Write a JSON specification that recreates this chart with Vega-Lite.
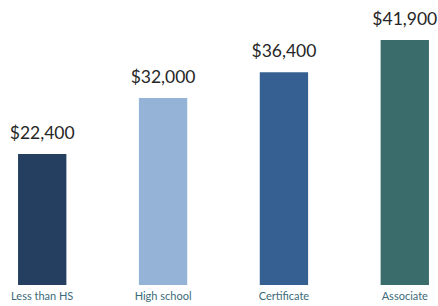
{
  "$schema": "https://vega.github.io/schema/vega-lite/v6.json",
  "autosize": {"type": "none"},
  "width": 423,
  "height": 263,
  "padding": {"left": 12, "right": 3, "top": 22, "bottom": 21},
  "background": "white",
  "config": {"view": {"stroke": null}, "font": "Lato"},
  "data": {"values": [
    {"level": "Less than HS", "earnings": 22400, "color": "#253F60"},
    {"level": "High school", "earnings": 32000, "color": "#95B3D7"},
    {"level": "Certificate", "earnings": 36400, "color": "#366092"},
    {"level": "Associate", "earnings": 41900, "color": "#3A6C6C"}
  ]},
  "encoding": {
    "x": {"field": "level", "type": "nominal", "sort": null,
      "scale": {"paddingInner": 0.6, "paddingOuter": 0.05},
      "axis": {"title": null, "ticks": false, "domain": false, "labelAngle": 0,
        "labelFontSize": 11, "labelColor": "#3C6A78", "labelPadding": 5, "labelFont": "Lato"}},
    "y": {"field": "earnings", "type": "quantitative",
      "scale": {"domain": [0, 45000]}, "axis": null}
  },
  "layer": [
    {"mark": {"type": "bar"},
     "encoding": {"color": {"field": "color", "type": "nominal", "scale": null}}},
    {"mark": {"type": "text", "dy": -15, "baseline": "alphabetic", "fontSize": 17.5, "color": "#262626", "font": "Lato"},
     "encoding": {"text": {"field": "earnings", "type": "quantitative", "format": "$,.0f"}}}
  ]
}
